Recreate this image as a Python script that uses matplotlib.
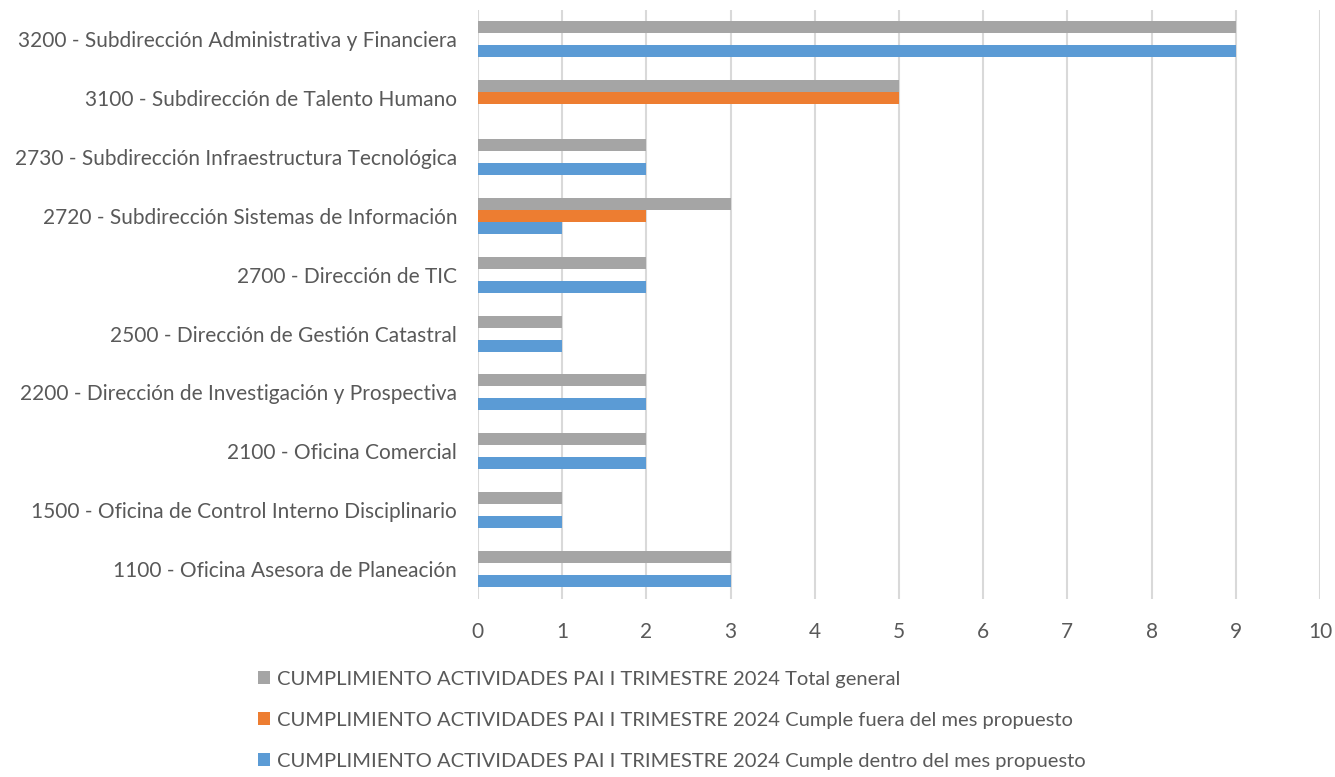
import numpy as np
import matplotlib
matplotlib.use("Agg")
import matplotlib.pyplot as plt

categories = [
    "3200 - Subdirección Administrativa y Financiera",
    "3100 - Subdirección de Talento Humano",
    "2730 - Subdirección Infraestructura Tecnológica",
    "2720 - Subdirección Sistemas de Información",
    "2700 - Dirección de TIC",
    "2500 - Dirección de Gestión Catastral",
    "2200 - Dirección de Investigación y Prospectiva",
    "2100 - Oficina Comercial",
    "1500 - Oficina de Control Interno Disciplinario",
    "1100 - Oficina Asesora de Planeación",
]
total_general = [9, 5, 2, 3, 2, 1, 2, 2, 1, 3]
cumple_fuera = [0, 5, 0, 2, 0, 0, 0, 0, 0, 0]
cumple_dentro = [9, 0, 2, 1, 2, 1, 2, 2, 1, 3]

labels = [
    "CUMPLIMIENTO ACTIVIDADES PAI I TRIMESTRE 2024 Total general",
    "CUMPLIMIENTO ACTIVIDADES PAI I TRIMESTRE 2024 Cumple fuera del mes propuesto",
    "CUMPLIMIENTO ACTIVIDADES PAI I TRIMESTRE 2024 Cumple dentro del mes propuesto",
]
colors = ["#a5a5a5", "#ed7d31", "#5b9bd5"]
text_color = "#595959"

plt.rcParams['font.family'] = ['Lato', 'DejaVu Sans']

fig = plt.figure(figsize=(13.35, 7.77), dpi=100)
ax = fig.add_axes([0.358, 0.2297, 0.6308, 0.7579])

# top category first
y = np.arange(len(categories))[::-1]
h = 0.204

b1 = ax.barh(y + h, total_general, height=h, color=colors[0], zorder=3)
b2 = ax.barh(y, cumple_fuera, height=h, color=colors[1], zorder=3)
b3 = ax.barh(y - h, cumple_dentro, height=h, color=colors[2], zorder=3)

ax.set_xlim(0, 10)
ax.set_ylim(-0.5, len(categories) - 0.5)
ax.set_xticks(range(0, 11))
ax.set_yticks(y)
ax.set_yticklabels(categories)

ax.grid(axis='x', color='#d9d9d9', linewidth=1.5, zorder=0)
for s in ax.spines.values():
    s.set_visible(False)
ax.tick_params(axis='both', length=0, labelsize=15, colors=text_color)
ax.tick_params(axis='y', pad=15)
ax.tick_params(axis='x', pad=17)

fig.legend([b1, b2, b3], labels, loc='upper left',
           bbox_to_anchor=(0.193, 0.137), frameon=False,
           fontsize=14.5, labelcolor=text_color,
           handlelength=0.6, handleheight=0.6, handletextpad=0.35,
           labelspacing=1.2, borderpad=0, borderaxespad=0)

fig.savefig("out.png", dpi=100)
